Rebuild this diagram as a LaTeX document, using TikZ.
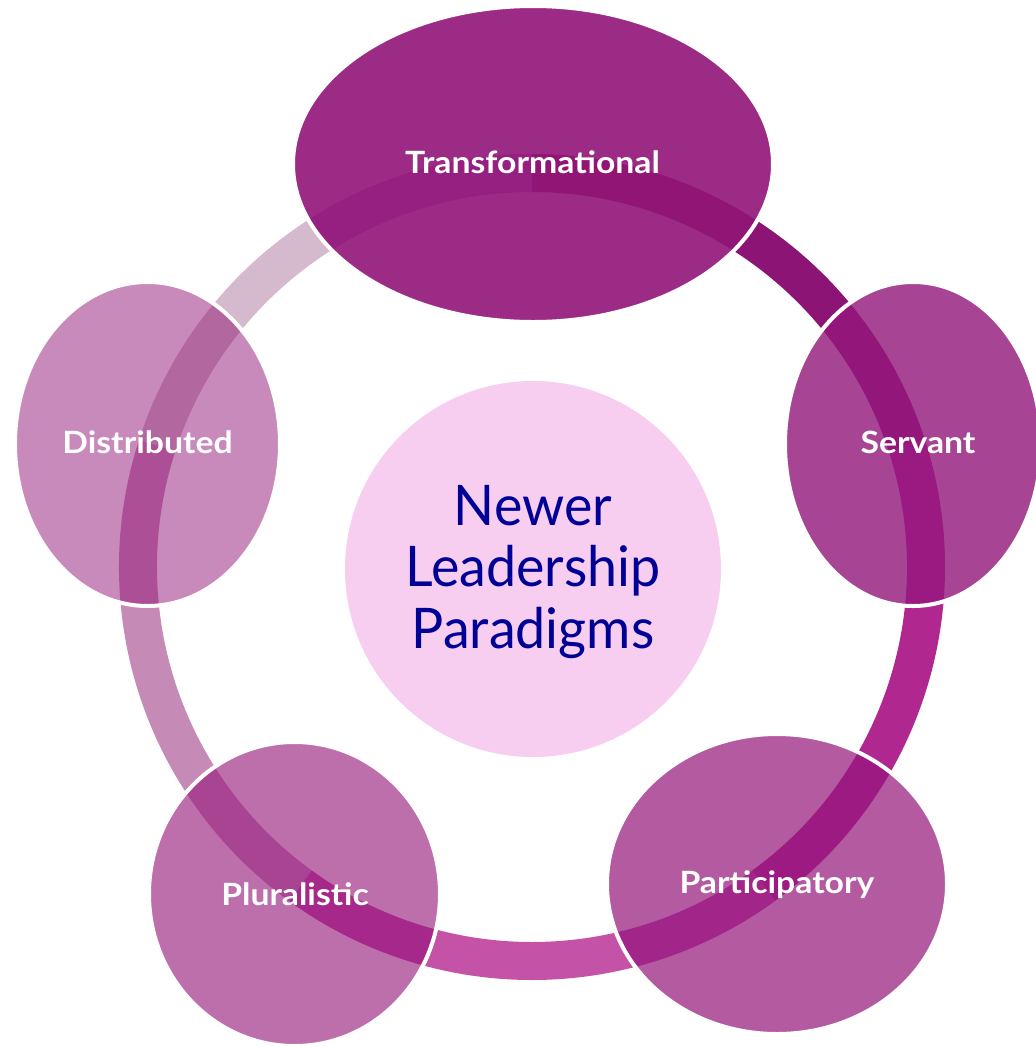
\documentclass[tikz,border=0pt]{standalone}
\usepackage{fontspec}
\setmainfont{Lato}
\definecolor{segTS}{RGB}{140,20,116}
\definecolor{segSP}{RGB}{176,40,143}
\definecolor{segPL}{RGB}{196,82,166}
\definecolor{segLD}{RGB}{197,138,181}
\definecolor{segDT}{RGB}{212,186,204}
\definecolor{fillT}{RGB}{156,43,134}
\definecolor{fillS}{RGB}{168,68,148}
\definecolor{fillP}{RGB}{179,90,160}
\definecolor{fillL}{RGB}{189,111,172}
\definecolor{fillD}{RGB}{200,137,187}
\definecolor{inTa}{RGB}{150,32,129}
\definecolor{inTb}{RGB}{145,21,117}
\definecolor{inSa}{RGB}{147,23,122}
\definecolor{inSb}{RGB}{155,26,129}
\definecolor{inPa}{RGB}{156,26,129}
\definecolor{inPb}{RGB}{162,38,138}
\definecolor{inLa}{RGB}{165,40,138}
\definecolor{inLb}{RGB}{168,68,146}
\definecolor{inDa}{RGB}{172,79,151}
\definecolor{inDb}{RGB}{178,103,159}
\definecolor{hubfill}{RGB}{247,205,240}
\definecolor{hubtext}{RGB}{0,0,150}
\def\cx{532}
\def\cy{567}
\def\R{394}
\newcommand\bubble[9]{%
  \coordinate (#1) at (#2,#3);
  \fill[#6] (#1) ellipse [x radius=#4, y radius=#5];
  \begin{scope}
    \clip (#1) ellipse [x radius=#4, y radius=#5];
    \draw[seg,#8] (\cx,\cy) ++(#7-72:\R) arc[start angle=#7-72, end angle=#7, radius=\R];
    \draw[seg,#9] (\cx,\cy) ++(#7:\R) arc[start angle=#7, end angle=#7+72, radius=\R];
  \end{scope}
  \draw[white, line width=3pt] (#1) ellipse [x radius=#4, y radius=#5];
}
\tikzset{
  seg/.style={line width=28.5pt},
  lbl/.style={text=white, anchor=base, inner sep=0pt, font=\fontsize{23}{27}\selectfont\bfseries}
}
\newcommand\bublabel[4]{%
  \node[lbl] (#1) at (#2,#3) {\scalebox{1.1}[1]{#4}};
}
\begin{document}
\begin{tikzpicture}[x=0.75pt,y=-0.75pt]
\useasboundingbox (0,0) rectangle (1036,1047);
\begin{scope}
\clip (0,0) rectangle (1036,1047);
% ring segments
\draw[seg, segTS] (\cx,\cy) ++(-90:\R) arc[start angle=-90, end angle=-18, radius=\R];
\draw[seg, segSP] (\cx,\cy) ++(-18:\R) arc[start angle=-18, end angle=54, radius=\R];
\draw[seg, segPL] (\cx,\cy) ++(54:\R) arc[start angle=54, end angle=126, radius=\R];
\draw[seg, segLD] (\cx,\cy) ++(126:\R) arc[start angle=126, end angle=198, radius=\R];
\draw[seg, segDT] (\cx,\cy) ++(198:\R) arc[start angle=198, end angle=270, radius=\R];
% bubbles
\bubble{T}{533}{164}{240}{158}{fillT}{-90}{inTa}{inTb}
\bubble{S}{913}{444}{128}{162}{fillS}{-18}{inSa}{inSb}
\bubble{P}{777}{884}{170}{150}{fillP}{54}{inPa}{inPb}
\bubble{L}{294.5}{894}{145.5}{152}{fillL}{126}{inLa}{inLb}
\bubble{D}{147.5}{444}{132.5}{162}{fillD}{198}{inDa}{inDb}
\end{scope}
% hub
\node[circle, fill=hubfill, minimum size=282pt, inner sep=0pt] (C) at (533,569) {};
\node[text=hubtext, align=center, font=\fontsize{42}{46}\selectfont] (Ct) at (533,572) {\scalebox{0.96}[1]{Newer}\\\scalebox{0.96}[1]{Leadership}\\\scalebox{0.96}[1]{Paradigms}};
% labels
\bublabel{Tl}{532.5}{173}{Transformational}
\bublabel{Sl}{918}{453}{Servant}
\bublabel{Pl}{777}{893}{Participatory}
\bublabel{Ll}{295}{905}{Pluralistic}
\bublabel{Dl}{147.5}{453}{Distributed}
\end{tikzpicture}
\end{document}
